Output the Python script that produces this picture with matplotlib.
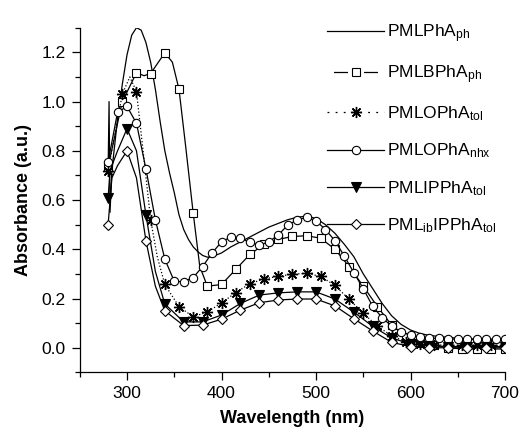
import numpy as np
import matplotlib
matplotlib.use('Agg')
import matplotlib.pyplot as plt
from matplotlib.lines import Line2D
from matplotlib.ticker import MultipleLocator

# PMLPhA_ph (plain line, no symbols)
wl_ph = [280, 281, 282, 284, 290, 295, 300, 305, 310, 315, 320, 325, 330, 335, 340,
         345, 350, 355, 360, 365, 370, 375, 380, 385, 390, 400, 410, 420, 430, 440,
         450, 460, 470, 480, 490, 500, 510, 520, 530, 540, 550, 560, 570, 580, 590,
         600, 610, 620, 640, 660, 680, 700]
abs_ph = [0.72, 1.00, 0.55, 0.72, 0.93, 1.07, 1.19, 1.27, 1.30, 1.29, 1.24, 1.16, 1.05, 0.92, 0.80,
          0.71, 0.63, 0.54, 0.48, 0.44, 0.41, 0.39, 0.375, 0.368, 0.37, 0.385, 0.41, 0.43, 0.45, 0.47,
          0.49, 0.505, 0.52, 0.53, 0.535, 0.525, 0.50, 0.465, 0.42, 0.37, 0.30, 0.24, 0.18, 0.13, 0.095,
          0.072, 0.058, 0.05, 0.042, 0.036, 0.032, 0.03]

# PMLBPhA_ph (squares every 15 nm)
wl_b = [280, 295, 310, 318, 325, 340, 348, 355, 362, 370, 377, 385, 400, 415, 430, 445,
        460, 475, 490, 505, 520, 535, 550, 565, 580, 595, 610, 625, 640, 655, 670, 685, 700]
abs_b = [0.735, 1.00, 1.117, 1.105, 1.114, 1.198, 1.16, 1.05, 0.82, 0.548, 0.33, 0.25, 0.257, 0.318, 0.379, 0.42,
         0.44, 0.452, 0.455, 0.445, 0.40, 0.33, 0.25, 0.167, 0.092, 0.045, 0.02, 0.01, 0.0, -0.005, -0.005, -0.005, -0.005]

# PMLOPhA_tol (asterisks every 15 nm)
wl_o = [280, 295, 303, 310, 317, 325, 332, 340, 355, 370, 385, 400, 415, 430, 445, 460,
        475, 490, 505, 520, 535, 550, 565, 580, 595, 610, 625, 640, 655, 670, 685, 700]
abs_o = [0.72, 1.03, 1.10, 1.04, 0.80, 0.52, 0.37, 0.257, 0.167, 0.126, 0.145, 0.182, 0.224, 0.26, 0.28, 0.29,
         0.299, 0.302, 0.29, 0.253, 0.197, 0.14, 0.088, 0.048, 0.025, 0.015, 0.012, 0.01, 0.01, 0.01, 0.01, 0.01]

# PMLOPhA_nhx (circles every 10 nm)
wl_n = [280, 290, 300, 310, 320, 330, 340, 350, 360, 370, 380, 390, 400, 410, 420,
        430, 440, 450, 460, 470, 480, 490, 500, 510, 520, 530, 540, 550, 560, 570,
        580, 590, 600, 610, 620, 630, 640, 650, 660, 670, 680, 690, 700]
abs_n = [0.755, 0.957, 0.98, 0.912, 0.727, 0.52, 0.36, 0.27, 0.268, 0.285, 0.33, 0.385, 0.43, 0.45, 0.445,
         0.428, 0.417, 0.43, 0.458, 0.498, 0.519, 0.53, 0.516, 0.48, 0.435, 0.372, 0.305, 0.24, 0.168, 0.122,
         0.088, 0.065, 0.05, 0.043, 0.04, 0.038, 0.036, 0.035, 0.035, 0.035, 0.035, 0.035, 0.035]

# PMLIPPhA_tol (filled triangles every 20 nm)
wl_i = [280, 282, 290, 300, 310, 320, 330, 340, 360, 380, 400, 420, 440, 460, 480, 500,
        520, 540, 560, 580, 600, 620, 640, 660, 680, 700]
abs_i = [0.61, 0.72, 0.80, 0.89, 0.80, 0.54, 0.31, 0.178, 0.105, 0.105, 0.133, 0.18, 0.214, 0.223, 0.227, 0.227,
         0.198, 0.145, 0.087, 0.04, 0.015, 0.008, 0.005, 0.005, 0.005, 0.005]

# PML_ibIPPhA_tol (diamonds every 20 nm)
wl_d = [280, 284, 290, 300, 310, 320, 330, 340, 360, 380, 400, 420, 440, 460, 480, 500,
        520, 540, 560, 580, 600, 620, 640, 660, 680, 700]
abs_d = [0.50, 0.69, 0.74, 0.80, 0.69, 0.435, 0.25, 0.15, 0.09, 0.092, 0.116, 0.153, 0.183, 0.194, 0.198, 0.198,
         0.17, 0.118, 0.068, 0.022, 0.005, 0.0, 0.0, 0.0, 0.0, 0.0]

labels = [r'PMLPhA$_{\mathregular{ph}}$',
          r'PMLBPhA$_{\mathregular{ph}}$',
          r'PMLOPhA$_{\mathregular{tol}}$',
          r'PMLOPhA$_{\mathregular{nhx}}$',
          r'PMLIPPhA$_{\mathregular{tol}}$',
          r'PML$_{\mathregular{ib}}$IPPhA$_{\mathregular{tol}}$']

plt.rcParams['font.family'] = ['Liberation Sans', 'DejaVu Sans']
plt.rcParams['mathtext.fontset'] = 'custom'
plt.rcParams['mathtext.rm'] = 'Liberation Sans'
plt.rcParams['mathtext.it'] = 'Liberation Sans:italic'
plt.rcParams['mathtext.bf'] = 'Liberation Sans:bold'

fig = plt.figure(figsize=(5.2, 4.33), dpi=100)
ax = fig.add_axes([0.1534, 0.140, 0.8178, 0.796])

lw = 0.9
ms_kw = dict(markeredgecolor='black', markeredgewidth=0.8)

def every(wl, step):
    # symbols only on the regular sampling grid
    return [i for i, w in enumerate(wl) if (w - 280) % step == 0]

series = [
    (wl_ph, abs_ph, dict(marker=None), '-', None),
    (wl_b, abs_b, dict(marker='s', markersize=5.5, markerfacecolor='white'), '-', 15),
    (wl_o, abs_o, dict(marker=(8, 2, 0), markersize=8, markeredgewidth=1.0), ':', 15),
    (wl_n, abs_n, dict(marker='o', markersize=6, markerfacecolor='white'), '-', 10),
    (wl_i, abs_i, dict(marker='v', markersize=6.5, markerfacecolor='black'), '-', 20),
    (wl_d, abs_d, dict(marker='D', markersize=5, markerfacecolor='white'), '-', 20),
]
legend_ls = ['-', (18.8, (11.2, 12.8)), (0, (1.5, 5)), '-', '-', '-']

handles = []
for k, (x, y, mk, ls, step) in enumerate(series):
    kw = dict(ms_kw)
    kw.update(mk)
    me = every(x, step) if step else None
    ax.plot(x, y, color='black', linestyle=ls, linewidth=lw, markevery=me, zorder=2 + k, **kw)
    handles.append(Line2D([], [], color='black', linestyle=legend_ls[k], linewidth=lw, **kw))

ax.set_xlim(250, 700)
ax.set_ylim(-0.1, 1.3)
ax.xaxis.set_minor_locator(MultipleLocator(50))
ax.yaxis.set_minor_locator(MultipleLocator(0.1))
ax.set_yticks([0.0, 0.2, 0.4, 0.6, 0.8, 1.0, 1.2])
ax.set_xticks([300, 400, 500, 600, 700])
ax.set_yticklabels(['0.0', '0.2', '0.4', '0.6', '0.8', '1.0', '1.2'])
ax.tick_params(which='major', direction='out', length=6, width=0.9, labelsize=12.5, pad=4)
ax.tick_params(which='minor', direction='out', length=3.5, width=0.9)
for s in ['top', 'right']:
    ax.spines[s].set_visible(False)
for s in ['left', 'bottom']:
    ax.spines[s].set_linewidth(0.9)

ax.set_xlabel('Wavelength (nm)', fontsize=13, fontweight='bold', labelpad=6)
ax.set_ylabel('Absorbance (a.u.)', fontsize=13, fontweight='bold', labelpad=7)

ax.legend(handles, labels, loc='upper left', bbox_to_anchor=(327 / 520, 1 - 22 / 433),
          bbox_transform=fig.transFigure, frameon=False, fontsize=12.5,
          handlelength=3.3, handletextpad=0.15, labelspacing=1.07,
          borderpad=0, borderaxespad=0, numpoints=1)

fig.savefig('out.png', dpi=100)
